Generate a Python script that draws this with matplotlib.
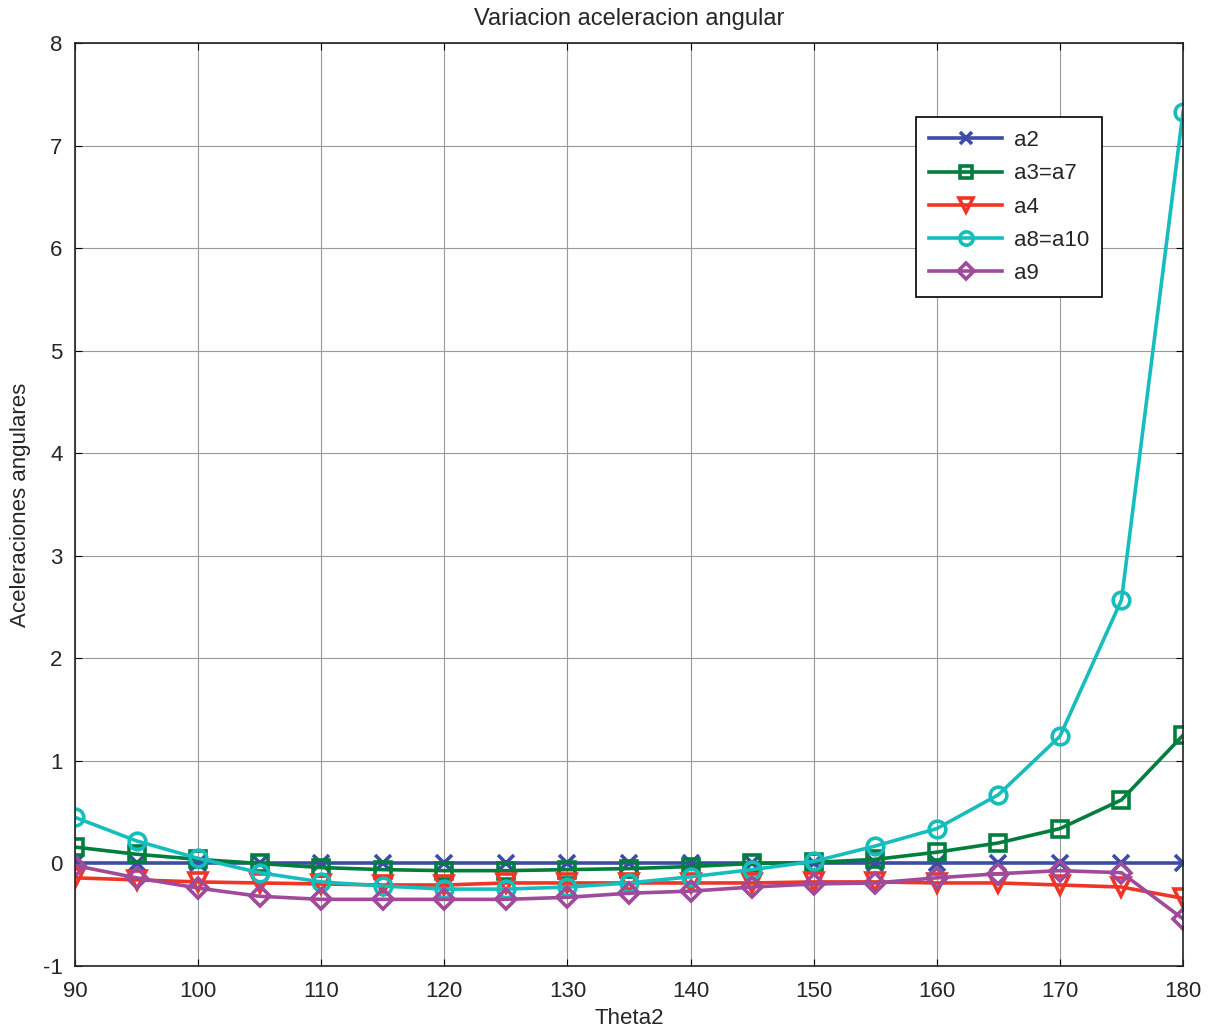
import numpy as np
import matplotlib.pyplot as plt

plt.rcParams['font.family'] = ['Liberation Sans', 'DejaVu Sans']
plt.rcParams['axes.unicode_minus'] = False

theta2 = np.arange(90, 181, 5)
a2 = [0.0] * 19
a3 = [0.16, 0.09, 0.04, 0.0, -0.04, -0.06, -0.07, -0.07, -0.06, -0.05, -0.03, 0.0, 0.01,
      0.04, 0.11, 0.20, 0.34, 0.62, 1.25]
a4 = [-0.14, -0.16, -0.18, -0.19, -0.20, -0.21, -0.21, -0.19, -0.19, -0.19, -0.19, -0.19, -0.18,
      -0.18, -0.19, -0.19, -0.21, -0.23, -0.34]
a8 = [0.45, 0.22, 0.05, -0.09, -0.18, -0.22, -0.25, -0.25, -0.23, -0.19, -0.13, -0.06, 0.02,
      0.17, 0.34, 0.67, 1.24, 2.57, 7.33]
a9 = [-0.02, -0.14, -0.24, -0.32, -0.35, -0.35, -0.35, -0.35, -0.33, -0.29, -0.27, -0.23, -0.20,
      -0.19, -0.14, -0.10, -0.07, -0.09, -0.54]

txt = '#262626'
fig = plt.figure(figsize=(12.15, 10.29), dpi=100)
ax = fig.add_axes([0.0617, 0.0612, 0.912, 0.897])

lw = 2.6
ms = 11
ax.plot(theta2, a2, color='#3D4DA6', lw=lw, marker='x', ms=ms, mew=2.6, label='a2')
ax.plot(theta2, a3, color='#007E3E', lw=lw, marker='s', ms=ms, mew=2.6, mfc='none', label='a3=a7')
ax.plot(theta2, a4, color='#EE3526', lw=lw, marker='v', ms=ms + 2, mew=2.6, mfc='none', label='a4')
ax.plot(theta2, a8, color='#16BDBD', lw=lw, marker='o', ms=ms + 1, mew=2.6, mfc='none', label='a8=a10')
ax.plot(theta2, a9, color='#A04A9C', lw=lw, marker='D', ms=ms - 1, mew=2.6, mfc='none', label='a9')

ax.set_xlim(90, 180)
ax.set_ylim(-1, 8)
ax.set_xticks(np.arange(90, 181, 10))
ax.set_yticks(np.arange(-1, 9, 1))
ax.grid(True, color='#999999', lw=0.8)
ax.tick_params(direction='in', top=True, right=True, labelsize=16, length=5,
               labelcolor=txt)
ax.tick_params(axis='x', pad=11)
ax.tick_params(axis='y', pad=9)
for s in ax.spines.values():
    s.set_linewidth(1.2)
    s.set_color('#222222')

ax.set_title('Variacion aceleracion angular', fontsize=17, color=txt, pad=13)
ax.set_xlabel('Theta2', fontsize=16, color=txt, labelpad=4)
ax.set_ylabel('Aceleraciones angulares', fontsize=16, color=txt, labelpad=8)

leg = ax.legend(loc='upper right', bbox_to_anchor=(0.937, 0.932), fontsize=16, handlelength=3.3,
                markerscale=0.8, fancybox=False, edgecolor='black', framealpha=1,
                borderpad=0.6, labelspacing=0.55, handletextpad=0.5)
leg.get_frame().set_linewidth(1.2)
for t in leg.get_texts():
    t.set_color(txt)

fig.savefig('out.png', dpi=100)
